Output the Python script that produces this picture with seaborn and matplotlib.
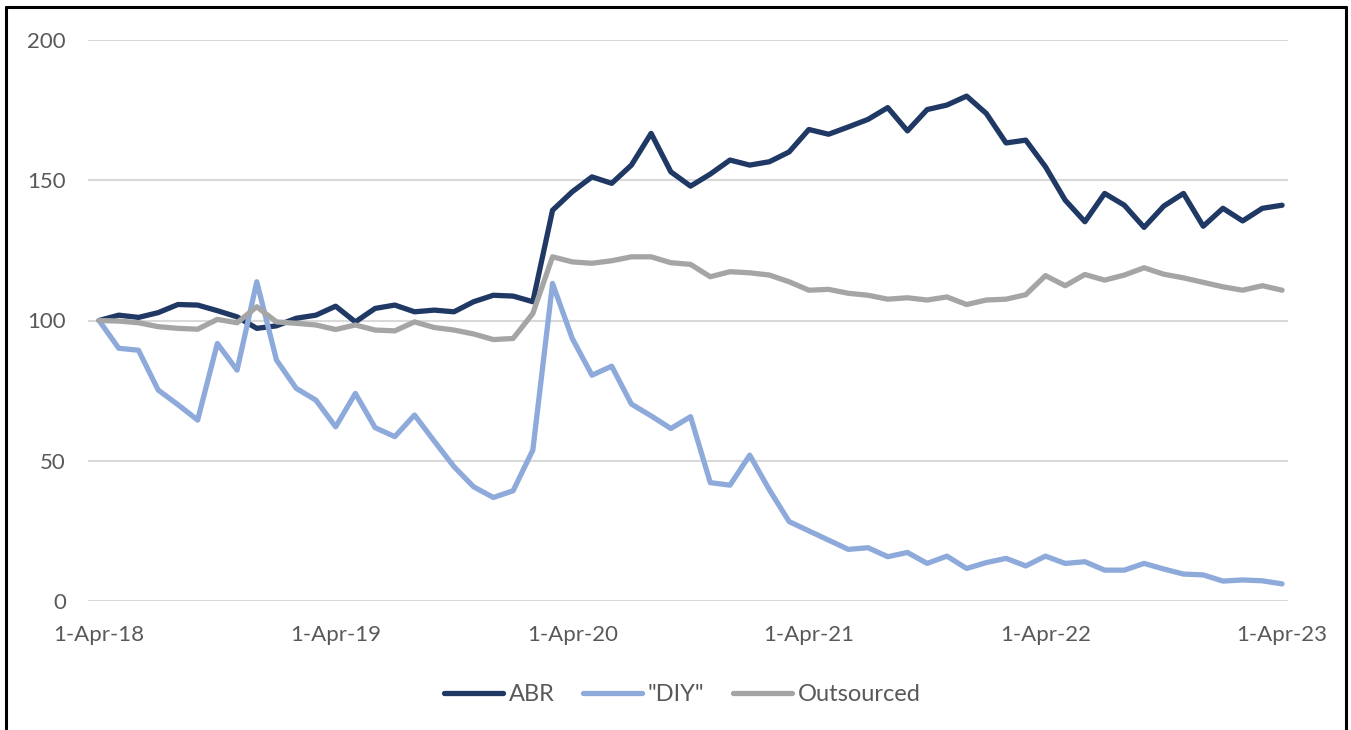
import numpy as np
import pandas as pd
import matplotlib
matplotlib.use("Agg")
import matplotlib.pyplot as plt
from matplotlib.lines import Line2D
import seaborn as sns

# Monthly index values, Apr-2018 .. Apr-2023 (base = 100)
months = pd.date_range("2018-04-01", "2023-04-01", freq="MS")

abr = [100.0, 101.9, 101.1, 102.8, 105.7, 105.5, 103.5, 101.3, 97.2, 98.1,
       100.8, 101.9, 105.1, 99.5, 104.3, 105.5, 103.1, 103.7, 103.1, 106.7,
       109.0, 108.7, 106.7, 139.3, 145.9, 151.2, 148.9, 155.4, 166.7, 153.0,
       147.9, 152.2, 157.2, 155.4, 156.6, 160.1, 168.1, 166.4, 169.0, 171.7,
       175.9, 167.6, 175.2, 176.8, 180.0, 173.8, 163.3, 164.3, 154.8, 142.9,
       135.2, 145.3, 141.1, 133.2, 140.8, 145.3, 133.6, 140.0, 135.5, 140.0,
       141.1]

diy = [100.0, 90.1, 89.4, 75.2, 70.0, 64.5, 91.8, 82.3, 113.8, 85.9,
       75.8, 71.6, 62.1, 74.0, 61.8, 58.6, 66.3, 57.0, 47.9, 40.7,
       36.9, 39.3, 53.8, 113.2, 93.6, 80.5, 83.7, 70.2, 66.0, 61.5,
       65.7, 42.2, 41.3, 52.0, 39.6, 28.3, 25.0, 21.7, 18.4, 19.0,
       15.8, 17.3, 13.4, 16.0, 11.6, 13.7, 15.2, 12.5, 16.0, 13.4,
       14.0, 11.0, 11.0, 13.4, 11.4, 9.6, 9.3, 7.1, 7.5, 7.2,
       6.1]

outsourced = [100.0, 99.8, 99.2, 97.8, 97.2, 96.9, 100.4, 99.2, 104.9, 99.5,
              99.0, 98.4, 96.8, 98.4, 96.6, 96.3, 99.5, 97.5, 96.6, 95.2,
              93.2, 93.6, 102.5, 122.7, 120.9, 120.4, 121.3, 122.7, 122.7, 120.6,
              120.0, 115.6, 117.4, 117.0, 116.2, 113.8, 110.8, 111.1, 109.7, 109.0,
              107.6, 108.1, 107.3, 108.4, 105.7, 107.3, 107.6, 109.2, 116.0, 112.4,
              116.4, 114.4, 116.2, 118.8, 116.5, 115.2, 113.6, 112.0, 110.8, 112.4,
              110.8]

series_names = ["ABR", '"DIY"', "Outsourced"]
series_colors = ["#1F3864", "#8EAADB", "#A5A5A5"]
tick_positions = [0, 12, 24, 36, 48, 60]
tick_labels = ["1-Apr-18", "1-Apr-19", "1-Apr-20", "1-Apr-21", "1-Apr-22", "1-Apr-23"]
y_ticks = [0, 50, 100, 150, 200]

df = pd.DataFrame({
    "month": np.tile(np.arange(len(months)), 3),
    "value": abr + diy + outsourced,
    "series": np.repeat(series_names, len(months)),
})

sns.set_theme(style="white")
plt.rcParams["font.family"] = ["Lato", "DejaVu Sans"]

text_color = "#595959"
line_w = 3.8
fig = plt.figure(figsize=(13.51, 7.30), dpi=100)
ax = fig.add_axes([88 / 1351, (730 - 601) / 730, 1200 / 1351, (601 - 40) / 730])

sns.lineplot(data=df, x="month", y="value", hue="series",
             hue_order=series_names, palette=series_colors,
             linewidth=line_w, ax=ax, legend=False)
for line in ax.lines:
    line.set_solid_joinstyle("round")
    line.set_solid_capstyle("round")

ax.set_xlim(-0.56, 60.3)
ax.set_ylim(0, 200)
ax.set_yticks(y_ticks)
ax.set_xticks(tick_positions)
ax.set_xticklabels(tick_labels)
ax.set_xlabel("")
ax.set_ylabel("")
ax.yaxis.grid(True, color="#D9D9D9", linewidth=1.5)
ax.xaxis.grid(False)
ax.set_axisbelow(True)
for s in ax.spines.values():
    s.set_visible(False)
ax.tick_params(axis="x", length=0, pad=17, labelsize=16, labelcolor=text_color)
ax.tick_params(axis="y", length=0, pad=16, labelsize=16, labelcolor=text_color)

handles = [Line2D([], [], color=c, linewidth=line_w, solid_capstyle="round")
           for c in series_colors]
fig.legend(handles, series_names, loc="center", bbox_to_anchor=(0.505, 0.048),
           ncol=3, frameon=False, fontsize=17, handlelength=2.5,
           handletextpad=0.25, columnspacing=1.2, labelcolor=text_color)

# Outer frame
frame_kw = dict(color="black", linewidth=2.2, transform=fig.transFigure)
fig.add_artist(Line2D([6 / 1351, 6 / 1351], [0, 1 - 7 / 730], **frame_kw))
fig.add_artist(Line2D([1346 / 1351, 1346 / 1351], [0, 1 - 7 / 730], **frame_kw))
fig.add_artist(Line2D([6 / 1351, 1346 / 1351], [1 - 7 / 730, 1 - 7 / 730], **frame_kw))

fig.savefig("out.png", dpi=100, facecolor="white")
